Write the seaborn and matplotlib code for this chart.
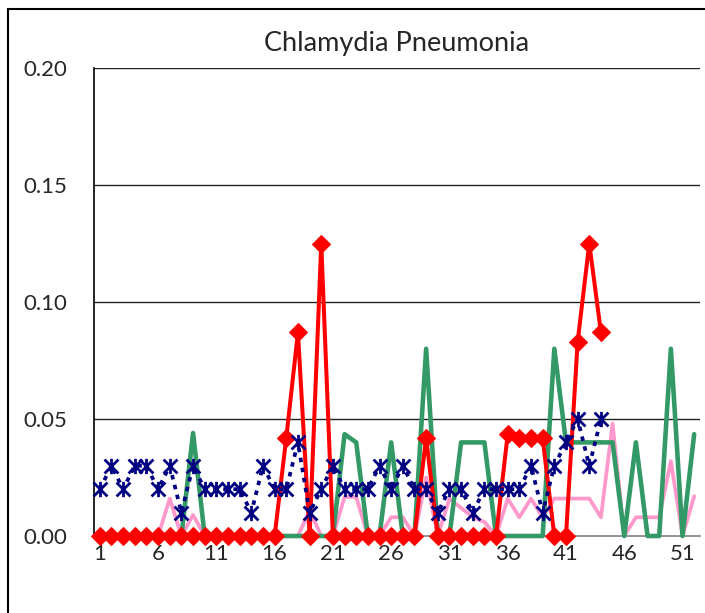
import numpy as np
import pandas as pd
import matplotlib
matplotlib.use("Agg")
import matplotlib.pyplot as plt
import seaborn as sns
from matplotlib.path import Path
from matplotlib.patches import Rectangle

nan = np.nan
weeks = list(range(1, 53))
xtick_labels = ["1", "6", "11", "16", "21", "26", "31", "36", "41", "46", "51"]
title = "Chlamydia Pneumonia"

blue_vals = [0.02, 0.03, 0.02, 0.03, 0.03, 0.02, 0.03, 0.01, 0.03, 0.02,
             0.02, 0.02, 0.02, 0.01, 0.03, 0.02, 0.02, 0.04, 0.01, 0.02,
             0.03, 0.02, 0.02, 0.02, 0.03, 0.02, 0.03, 0.02, 0.02, 0.01,
             0.02, 0.02, 0.01, 0.02, 0.02, 0.02, 0.02, 0.03, 0.01, 0.03,
             0.04, 0.05, 0.03, 0.05] + [nan] * 8

red_vals = [0] * 16 + [0.042, 0.087, 0, 0.125] + [0] * 8 + [0.042] + [0] * 6 + \
           [0.0435, 0.0417, 0.0417, 0.0417, 0, 0, 0.083, 0.125, 0.087] + [nan] * 8

green_vals = [0] * 8 + [0.044] + [0] * 12 + [0.0435, 0.040, 0, 0, 0.040, 0, 0, 0.080, 0, 0,
              0.040, 0.040, 0.040, 0, 0, 0, 0, 0, 0.080,
              0.040, 0.040, 0.040, 0.040, 0.040, 0, 0.040, 0, 0, 0.080, 0, 0.0435]

pink_vals = [0] * 6 + [0.016, 0, 0.009] + [0] * 9 + [0.011, 0, 0, 0.0167, 0.0167, 0, 0,
             0.008, 0.008, 0, 0.025, 0, 0.016, 0.012, 0.008, 0.006, 0,
             0.016, 0.008, 0.016, 0.008, 0.016, 0.016, 0.016, 0.016, 0.008, 0.048,
             0, 0.008, 0.008, 0.008, 0.032, 0, 0.017]

df = pd.DataFrame({"week": weeks, "blue": blue_vals, "red": red_vals,
                   "green": green_vals, "pink": pink_vals})

sns.set_style("white")
plt.rcParams["font.family"] = ["Lato", "DejaVu Sans"]

fig = plt.figure(figsize=(7.05, 6.13), dpi=100)
ax = fig.add_axes([94 / 705, 77 / 613, 606 / 705, 468 / 613])

# excel-like asterisk marker (X plus a vertical bar)
star = Path([(-1, -1), (1, 1), (-1, 1), (1, -1), (0, -1.1), (0, 1.1)],
            [Path.MOVETO, Path.LINETO] * 3)

sns.lineplot(data=df, x="week", y="pink", ax=ax, color="#FF99CC", lw=2.7,
             zorder=2, clip_on=False)
sns.lineplot(data=df, x="week", y="green", ax=ax, color="#339966", lw=3.3,
             zorder=3, clip_on=False)
sns.lineplot(data=df, x="week", y="red", ax=ax, color="#FF0000", lw=2.9,
             marker="D", markersize=9, markeredgecolor="#FF0000",
             markerfacecolor="#FF0000", zorder=4, clip_on=False)
sns.lineplot(data=df, x="week", y="blue", ax=ax, color="#000080", lw=2.7,
             linestyle=(0, (1.2, 1.5)), marker=star, markersize=11,
             markeredgecolor="#000080", markerfacecolor="none",
             markeredgewidth=2.0, zorder=5, clip_on=False)

ax.set_xlim(0.5, 52.5)
ax.set_ylim(0, 0.20)
ax.set_yticks([0, 0.05, 0.10, 0.15, 0.20])
ax.set_yticklabels(["0.00", "0.05", "0.10", "0.15", "0.20"])
for yv in [0.05, 0.10, 0.15, 0.20]:
    ax.axhline(yv, color="#222222", lw=1.0, zorder=1)

# category ticks between groups of 5, labels under 1, 6, 11 ...
ax.set_xticks(np.arange(0.5, 52, 5))
ax.set_xticklabels([])
ax.set_xticks(np.arange(1, 52, 5), minor=True)
ax.set_xticklabels(xtick_labels, minor=True)
ax.tick_params(axis="x", which="major", direction="in", length=6,
               color="#808080", width=1)
ax.tick_params(axis="x", which="minor", length=0, pad=6, labelsize=16)
ax.tick_params(axis="y", direction="in", length=8, color="black", width=1,
               pad=19, labelsize=16)

ax.set_xlabel("")
ax.set_ylabel("")
ax.set_title(title, fontsize=19.5, pad=12)

for side in ["top", "right"]:
    ax.spines[side].set_visible(False)
ax.spines["left"].set_color("black")
ax.spines["left"].set_linewidth(1.2)
ax.spines["bottom"].set_color("#808080")
ax.spines["bottom"].set_linewidth(1.2)

# outer chart border, runs off the right and bottom of the image
fig.patches.append(Rectangle((8 / 705, -0.5), 2, 0.5 + 1 - 9 / 613,
                             transform=fig.transFigure, fill=False,
                             edgecolor="black", lw=1.5))

fig.savefig("out.png", dpi=100)
